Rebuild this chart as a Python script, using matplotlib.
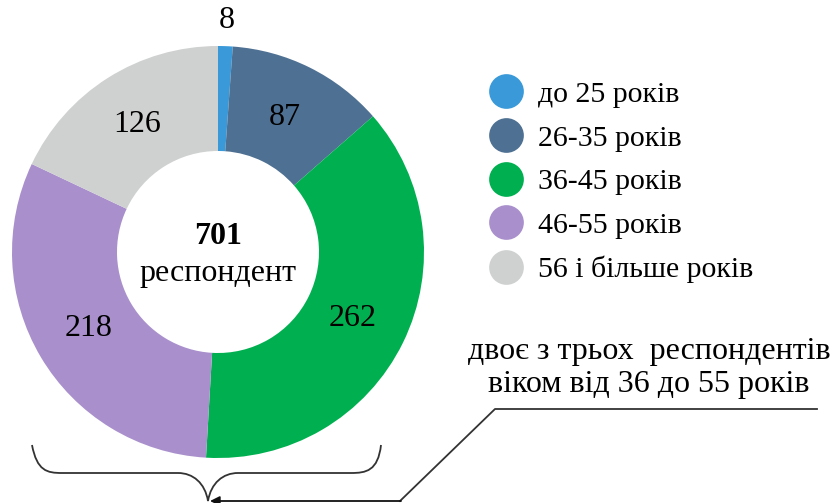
import numpy as np
import matplotlib.pyplot as plt
from matplotlib.path import Path
from matplotlib.patches import PathPatch
from matplotlib.lines import Line2D

plt.rcParams['font.family'] = ['Liberation Serif', 'DejaVu Serif']

# data
groups = [u'до 25 років', u'26-35 років', u'36-45 років', u'46-55 років', u'56 і більше років']
counts = [8, 87, 262, 218, 126]
colors = ['#3A9AD9', '#4E7092', '#00B050', '#A990CC', '#CFD1D0']
total_label = u'респондент'
note = u'двоє з трьох  респондентів\nвіком від 36 до 55 років'

W, H = 834, 503
fig = plt.figure(figsize=(W / 100.0, H / 100.0), dpi=100)
ax = fig.add_axes([0, 0, 1, 1])

cx, cy, R = 218, H - 252, 206
wedges, _ = ax.pie(counts, colors=colors, startangle=90, counterclock=False,
                   radius=R, center=(cx, cy),
                   wedgeprops=dict(width=105, linewidth=0))
ax.set_xlim(0, W)
ax.set_ylim(0, H)
ax.set_aspect('equal')
ax.axis('off')

for w, n in zip(wedges, counts):
    ang = np.deg2rad((w.theta1 + w.theta2) / 2.0)
    r = 0.73 * R if n > 20 else 1.125 * R
    ax.text(cx + r * np.cos(ang), cy + r * np.sin(ang), str(n),
            ha='center', va='center', fontsize=23)

ax.text(cx, H - 236, str(sum(counts)), ha='center', va='center',
        fontsize=23, fontweight='bold')
ax.text(cx, H - 273, total_label, ha='center', va='center', fontsize=23)

# legend
handles = [Line2D([], [], marker='o', linestyle='none', markersize=25,
                  markerfacecolor=c, markeredgecolor='none') for c in colors]
ax.legend(handles, groups, loc='upper left', bbox_to_anchor=(487 / W, 1 - 81 / H),
          frameon=False, fontsize=21.5, handletextpad=0.45, labelspacing=0.56,
          borderpad=0, borderaxespad=0, handlelength=1.25)

# note
ax.text(649, H - 368, note, ha='center', va='center', fontsize=23,
        linespacing=1.2)

# brace under the donut
by_top, by_mid, by_tip = H - 445, H - 473, H - 501
xl, xr, xt = 32, 381, 208
verts = [(xl, by_top), (xl + 5, by_mid + 2), (xl + 15, by_mid), (xl + 30, by_mid),
         (xt - 30, by_mid),
         (xt - 15, by_mid), (xt - 3, by_mid - 10), (xt, by_tip),
         (xt + 3, by_mid - 10), (xt + 15, by_mid), (xt + 30, by_mid),
         (xr - 30, by_mid),
         (xr - 15, by_mid), (xr - 3, by_mid + 2), (xr, by_top)]
codes = [Path.MOVETO, Path.CURVE4, Path.CURVE4, Path.CURVE4,
         Path.LINETO,
         Path.CURVE4, Path.CURVE4, Path.CURVE4,
         Path.CURVE4, Path.CURVE4, Path.CURVE4,
         Path.LINETO,
         Path.CURVE4, Path.CURVE4, Path.CURVE4]
ax.add_patch(PathPatch(Path(verts, codes), facecolor='none', edgecolor='#333333', lw=1.3))

# connector from note to brace
ax.plot([817, 495, 400], [H - 409, H - 409, H - 501], color='#333333', lw=1.3)
ax.annotate('', xy=(xt + 2, H - 501), xytext=(401, H - 501),
            arrowprops=dict(arrowstyle='-|>', color='#111111', lw=1.3,
                            mutation_scale=14, shrinkA=0, shrinkB=0))

plt.savefig('out.png', dpi=100)
